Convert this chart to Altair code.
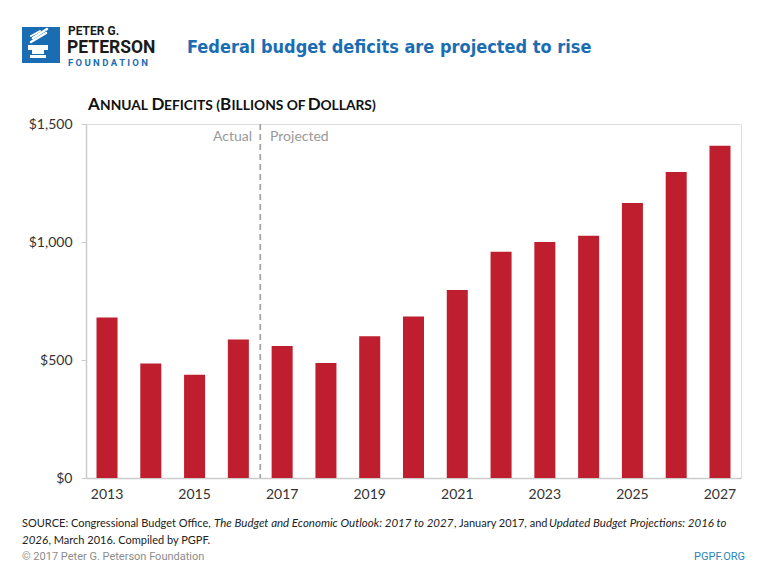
import altair as alt
import pandas as pd

# ---------------- data ----------------
YEARS = [2013, 2014, 2015, 2016, 2017, 2018, 2019, 2020, 2021, 2022, 2023, 2024, 2025, 2026, 2027]
DEFICITS = [680, 485, 438, 587, 559, 487, 601, 684, 797, 959, 1000, 1027, 1165, 1297, 1408]
Y_TICKS = [0, 500, 1000, 1500]
DIVIDER_YEAR = [2016]

TITLE = "Federal budget deficits are projected to rise"
LOGO_LINES = ["PETER G.", "PETERSON", "F O U N D A T I O N"]
AXIS_TITLE_PARTS = ["A", "NNUAL", "D", "EFICITS (", "B", "ILLIONS OF", "D", "OLLARS)"]
ACTUAL_LABEL = "Actual"
PROJECTED_LABEL = "Projected"
SOURCE_LINE1 = ["SOURCE: Congressional Budget Office,",
                "The Budget and Economic Outlook: 2017 to 2027",
                ", January 2017, and",
                "Updated Budget Projections: 2016 to"]
SOURCE_LINE2 = ["2026", ", March 2016. Compiled by PGPF."]
COPYRIGHT = "© 2017 Peter G. Peterson Foundation"
SITE = "PGPF.ORG"

df = pd.DataFrame({"year": YEARS, "deficit": DEFICITS})

# ---------------- layout ----------------
OX, OY = 86, 124          # page position of plot origin
W, H = 655, 354
PAD_L, PAD_T = OX - 8, OY - 8
PAD_R = 760 - (OX + W)
PAD_B = 568 - (OY + H)
P_IN, P_OUT = 0.52, 0.24
STEP = W / (len(YEARS) - P_IN + 2 * P_OUT)

RED = "#BE1E2D"
BLUE = "#1B6DB3"
FONT = "Lato"
COND = "'Noto Sans Condensed', 'DejaVu Sans Condensed', 'Roboto Condensed', Roboto"


def text(t, x, y, size, color, weight="normal", style="normal", align="left", font=FONT):
    return alt.Chart(pd.DataFrame({"t": [t]})).mark_text(
        align=align, baseline="middle", fontSize=size, color=color,
        fontWeight=weight, fontStyle=style, font=font
    ).encode(text="t:N", x=alt.value(x - OX), y=alt.value(y - OY))


def box(x1, y1, x2, y2, color):
    return alt.Chart(pd.DataFrame({"a": [0]})).mark_rect(color=color).encode(
        x=alt.value(x1 - OX), x2=alt.value(x2 - OX),
        y=alt.value(y1 - OY), y2=alt.value(y2 - OY))


def stroke(x1, y1, x2, y2, color, w):
    return alt.Chart(pd.DataFrame({"a": [0]})).mark_rule(
        color=color, strokeWidth=w, strokeCap="round").encode(
        x=alt.value(x1 - OX), x2=alt.value(x2 - OX),
        y=alt.value(y1 - OY), y2=alt.value(y2 - OY))


bars = alt.Chart(df).mark_bar(color=RED).encode(
    x=alt.X("year:O",
            scale=alt.Scale(domain=YEARS, paddingInner=P_IN, paddingOuter=P_OUT),
            axis=alt.Axis(title=None, labelAngle=0, ticks=False, domainColor="#cccccc",
                          domainWidth=1.5, labelFontSize=14, labelColor="#333333",
                          labelFont=FONT, labelPadding=9,
                          labelExpr="datum.value % 2 == 1 ? datum.label : ''")),
    y=alt.Y("deficit:Q",
            scale=alt.Scale(domain=[0, 1500], nice=False),
            axis=alt.Axis(title=None, values=Y_TICKS, format="$,.0f", grid=False,
                          domainColor="#cccccc", domainWidth=1.5, tickColor="#cccccc",
                          tickSize=5, labelFontSize=14, labelColor="#333333",
                          labelFont=FONT, labelPadding=9)),
)

divider = alt.Chart(pd.DataFrame({"year": DIVIDER_YEAR})).mark_rule(
    color="#a6a6a6", strokeDash=[6, 4], strokeWidth=1.8, xOffset=STEP * P_IN / 2
).encode(x=alt.X("year:O", bandPosition=1), y=alt.value(0), y2=alt.value(H))

layers = [bars, divider,
          text(ACTUAL_LABEL, 252, 137, 14, "#999999", align="right"),
          text(PROJECTED_LABEL, 270, 137, 14, "#999999")]

# logo
layers += [
    box(22, 27, 60, 63, BLUE),
    box(28, 45, 48, 50, "white"),
    box(32, 50, 44, 54, "white"),
    box(30, 55, 46, 58, "white"),
    stroke(31, 42, 46, 33, "white", 2.5),
    stroke(33, 38, 47, 29, "white", 2.5),
    stroke(31, 36, 40, 31, "white", 2),
    text(LOGO_LINES[0], 68, 30.5, 12, "#1a1a1a", weight="bold", font="Roboto"),
    text(LOGO_LINES[1], 67, 47.5, 17.5, "#1a1a1a", weight="bold", font="Roboto"),
    text(LOGO_LINES[2], 68, 63, 9.5, BLUE, weight="bold", font="Roboto"),
    text(TITLE, 187, 48, 18, BLUE, weight="bold", font=COND),
]

# small-caps axis title
cap_x = [88, 100, 151.5, 164, 220, 231.5, 307.7, 320.4]
for i, (part, x) in enumerate(zip(AXIS_TITLE_PARTS, cap_x)):
    big = i % 2 == 0
    layers.append(text(part, x, 105 if big else 106, 17 if big else 13.8,
                       "#111111", weight="bold"))

# source
src_x1 = [22, 214, 454, 549]
for i, (part, x) in enumerate(zip(SOURCE_LINE1, src_x1)):
    it = i % 2 == 1
    layers.append(text(part, x, 524, 11.5 if it else 11, "#222222",
                       style="italic" if it else "normal"))
src_x2 = [22, 48.5]
for i, (part, x) in enumerate(zip(SOURCE_LINE2, src_x2)):
    it = i == 0
    layers.append(text(part, x, 541, 11.5 if it else 11, "#222222",
                       style="italic" if it else "normal"))

layers += [
    text(COPYRIGHT, 22, 557, 11, "#8c8c8c", font="Roboto"),
    text(SITE, 745, 557, 11, "#2b86b5", align="right", font="Roboto"),
]

chart = alt.layer(*layers).properties(
    width=W, height=H,
    autosize=alt.AutoSizeParams(type="none"),
    padding={"left": PAD_L, "top": PAD_T, "right": PAD_R, "bottom": PAD_B},
).configure_view(stroke=None).configure(background="white")

chart.save("out.html", embed_options={"renderer": "svg", "actions": False})
